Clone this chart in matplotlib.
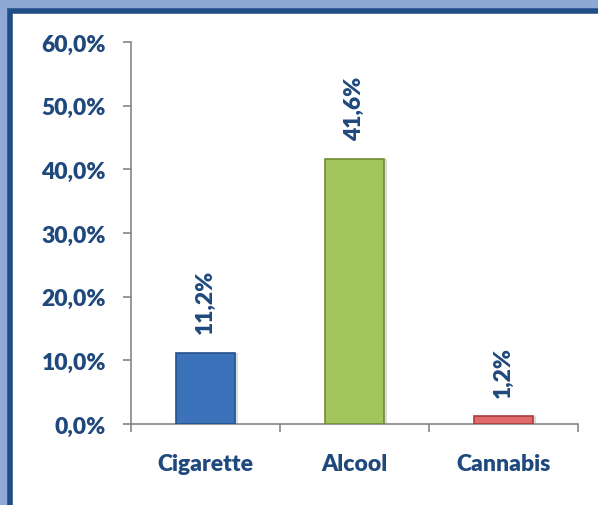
import matplotlib.pyplot as plt
from matplotlib.patches import Rectangle
from matplotlib.ticker import FuncFormatter

categories = ['Cigarette', 'Alcool', 'Cannabis']
values = [11.2, 41.6, 1.2]
value_labels = ['11,2%', '41,6%', '1,2%']
colors = ['#3c72ba', '#a4c45c', '#e06a6a']
edges = ['#25508c', '#6f8d32', '#a83e3e']

txt = '#1f497d'
plt.rcParams['font.family'] = ['Lato', 'DejaVu Sans']
weight = 'heavy'

fig = plt.figure(figsize=(5.98, 5.06), dpi=100)
fig.patch.set_facecolor('#8eaad4')

# white panel with dark blue frame, in its own background axes
bg = fig.add_axes([0, 0, 1, 1], zorder=-1)
bg.set_xlim(0, 598)
bg.set_ylim(506, 0)
bg.axis('off')
bg.add_patch(Rectangle((10, 12), 600, 510, facecolor='white', edgecolor='#1f4e86', linewidth=4))

ax = fig.add_axes([131 / 598, 1 - 425 / 506, 447 / 598, 382 / 506])
ax.set_facecolor('none')

x = range(len(categories))
# soft shadow then the bars
ax.bar([i + 0.015 for i in x], values, width=0.4, color='#bbbbbb', alpha=0.5, zorder=2)
ax.bar(x, values, width=0.4, color=colors, edgecolor=edges, linewidth=1.2, zorder=3)

for i, v in enumerate(values):
    ax.annotate(value_labels[i], (i, v), xytext=(0, 14), textcoords='offset points',
                rotation=90, ha='center', va='bottom', fontsize=16.5,
                fontweight=weight, color=txt)

ax.set_xlim(-0.5, 2.5)
ax.set_ylim(0, 60)
ax.set_yticks(range(0, 61, 10))
ax.yaxis.set_major_formatter(FuncFormatter(lambda v, p: f'{v:.1f}%'.replace('.', ',')))

ax.set_xticks([-0.5, 0.5, 1.5, 2.5])
ax.set_xticklabels([])
ax.set_xticks(list(x), minor=True)
ax.set_xticklabels(categories, minor=True)
ax.tick_params(axis='x', which='minor', length=0, pad=21)
ax.tick_params(axis='x', which='major', length=6, color='#868686', width=1.2)
ax.tick_params(axis='y', length=6, color='#868686', width=1.2, pad=12)

for lab in ax.get_xticklabels(minor=True) + ax.get_yticklabels():
    lab.set_fontsize(16.5)
    lab.set_fontweight(weight)
    lab.set_color(txt)

for s in ['top', 'right']:
    ax.spines[s].set_visible(False)
for s in ['left', 'bottom']:
    ax.spines[s].set_color('#868686')
    ax.spines[s].set_linewidth(1.2)

fig.savefig('out.png', dpi=100, facecolor=fig.get_facecolor())
